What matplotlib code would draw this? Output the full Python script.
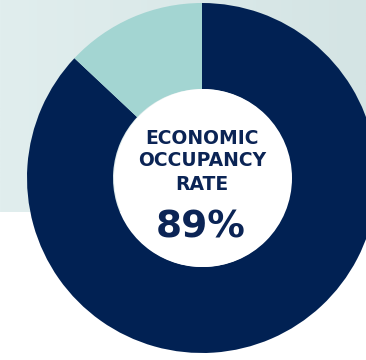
import matplotlib
matplotlib.use("Agg")
import matplotlib.pyplot as plt
import numpy as np
from matplotlib.colors import LinearSegmentedColormap
from matplotlib.patches import Circle

# Data
labels = ["Occupied", "Vacant"]
values = [87, 13]
colors = ["#012153", "#a3d5d2"]
title_text = "ECONOMIC\nOCCUPANCY\nRATE"
value_text = "89%"

W, H = 366, 360
fig = plt.figure(figsize=(W / 100, H / 100), dpi=100)
ax = fig.add_axes([0, 0, 1, 1])
ax.set_xlim(0, W)
ax.set_ylim(0, H)
ax.axis("off")
fig.patch.set_facecolor("white")

# background gradient panel
cmap = LinearSegmentedColormap.from_list("bg", ["#e1eeee", "#d4e4e4"])
grad = np.linspace(0, 1, 256).reshape(1, -1)
ax.imshow(grad, cmap=cmap, extent=[0, W, H - 212, H], aspect="auto", zorder=0)

cx, cy, R, r = 202, H - 178, 175, 89
ax.pie(values, colors=colors, startangle=90, counterclock=False,
       center=(cx, cy), radius=R, frame=True,
       wedgeprops=dict(width=R - r, edgecolor="none", linewidth=0))
ax.add_patch(Circle((cx + 1, cy), r, facecolor="white", edgecolor="none", zorder=3))
ax.set_xlim(0, W)
ax.set_ylim(0, H)
ax.set_aspect("auto")
ax.axis("off")

navy = "#0b2455"
lines = title_text.split("\n")
ys = [138, 161, 184]
for t, y in zip(lines, ys):
    ax.text(202, H - y, t, ha="center", va="center", fontsize=13.5,
            fontweight="bold", color=navy, family="DejaVu Sans", zorder=5)
ax.text(201, H - 228, value_text, ha="center", va="center", fontsize=27,
        fontweight="bold", color=navy, family="DejaVu Sans", zorder=5)

fig.savefig("out.png", dpi=100)
